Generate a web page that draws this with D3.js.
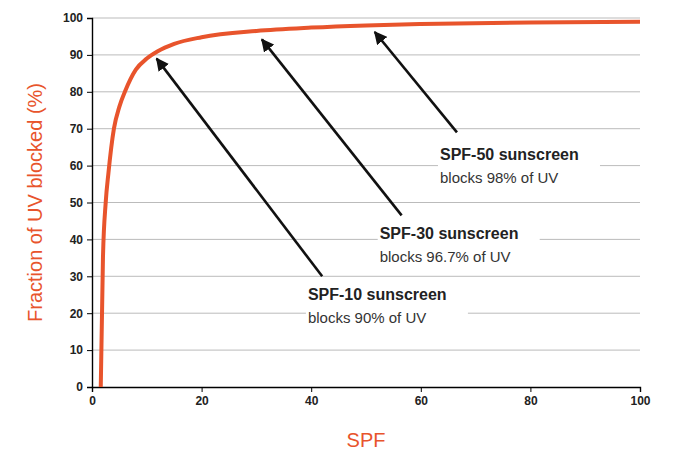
<!DOCTYPE html>
<html><head><meta charset="utf-8">
<script src="https://cdn.jsdelivr.net/npm/d3@7.9.0/dist/d3.min.js"></script>
<style>body{margin:0;background:#fff;font-family:"Liberation Sans",Arial,sans-serif}</style>
</head><body><svg id="chart" width="685" height="462"></svg>
<script>
// curve points: [SPF, % blocked]
const spf = [1.6, 2, 2.5, 3, 4, 5, 6, 8, 10, 12, 15, 20, 30, 40, 50, 60, 80, 100];
const blocked = [0, 35, 50, 58, 70, 76, 80, 86, 89, 91, 93, 94.8, 96.5, 97.4, 98, 98.4, 98.8, 99];
const xTicks = [0, 20, 40, 60, 80, 100];
const yTicks = d3.range(0, 101, 10);
// annotations: title, subtitle, text anchor [spf, %], arrow start, arrow end
const notes = [
  { title: 'SPF-10 sunscreen', sub: 'blocks 90% of UV', at: [39.4, 23.6], from: [42, 30], to: [11.8, 89] },
  { title: 'SPF-30 sunscreen', sub: 'blocks 96.7% of UV', at: [52.5, 40], from: [56.5, 46.5], to: [31, 94.2] },
  { title: 'SPF-50 sunscreen', sub: 'blocks 98% of UV', at: [63.5, 61.5], from: [66.6, 69], to: [51.6, 96.2] },
];

const svg = d3.select('#chart');
const x = d3.scaleLinear().domain([0, 100]).range([92, 640]);
const y = d3.scaleLinear().domain([0, 100]).range([387, 18]);

// grid
svg.append('g').selectAll('line').data(yTicks.slice(1)).join('line')
  .attr('x1', x(0)).attr('x2', x(100)).attr('y1', d => y(d)).attr('y2', d => y(d))
  .attr('stroke', '#aaa').attr('stroke-width', 0.8);

svg.append('g').attr('transform', `translate(0,${y(0)})`)
  .call(d3.axisBottom(x).tickValues(xTicks).tickSize(5).tickPadding(4))
  .call(g => g.selectAll('text').style('font-size', '12px').style('font-weight', 'bold').attr('fill', '#222'))
  .call(g => g.select('.domain').attr('stroke-width', 1.4));
svg.append('g').attr('transform', `translate(${x(0)},0)`)
  .call(d3.axisLeft(y).tickValues(yTicks).tickSize(5).tickPadding(4))
  .call(g => g.selectAll('text').style('font-size', '12px').style('font-weight', 'bold').attr('fill', '#222'))
  .call(g => g.select('.domain').attr('stroke-width', 1.4));

// curve
svg.append('path')
  .datum(spf.map((s, i) => [s, blocked[i]]))
  .attr('fill', 'none').attr('stroke', '#e8542c').attr('stroke-width', 4)
  .attr('d', d3.line().x(d => x(d[0])).y(d => y(d[1])).curve(d3.curveMonotoneX));

// arrowheads
svg.append('defs').append('marker').attr('id', 'ah')
  .attr('viewBox', '0 0 10 10').attr('refX', 9).attr('refY', 5)
  .attr('markerWidth', 5).attr('markerHeight', 5).attr('orient', 'auto')
  .append('path').attr('d', 'M0,0L10,5L0,10z').attr('fill', '#111');

notes.forEach(n => {
  const tx = x(n.at[0]), ty = y(n.at[1]);
  svg.append('rect').attr('x', tx - 2).attr('y', ty - 15).attr('width', 162).attr('height', 44).attr('fill', '#fff');
  svg.append('line').attr('x1', x(n.from[0])).attr('y1', y(n.from[1]))
    .attr('x2', x(n.to[0])).attr('y2', y(n.to[1]))
    .attr('stroke', '#111').attr('stroke-width', 2.6).attr('marker-end', 'url(#ah)');
  svg.append('text').attr('x', tx).attr('y', ty).text(n.title)
    .style('font-size', '16px').style('font-weight', 'bold').attr('fill', '#222');
  svg.append('text').attr('x', tx).attr('y', ty + 23).text(n.sub)
    .style('font-size', '15px').attr('fill', '#333');
});

svg.append('text').attr('transform', `translate(42,${y(50)}) rotate(-90)`)
  .attr('text-anchor', 'middle').text('Fraction of UV blocked (%)')
  .style('font-size', '20px').attr('fill', '#e8542c');
svg.append('text').attr('x', x(50)).attr('y', 447).attr('text-anchor', 'middle').text('SPF')
  .style('font-size', '20px').attr('fill', '#e8542c');
</script></body></html>
